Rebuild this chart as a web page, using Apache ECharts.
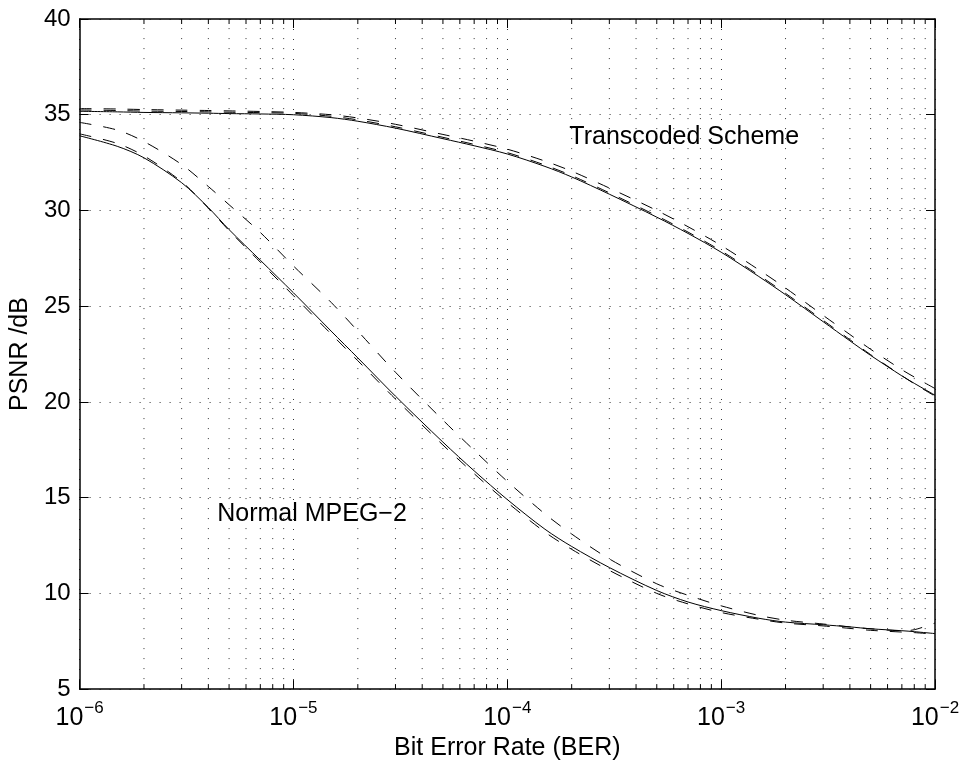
<!DOCTYPE html>
<html>
<head>
<meta charset="utf-8">
<script src="https://cdn.jsdelivr.net/npm/echarts@6/dist/echarts.min.js"></script>
<style>
  html, body { margin: 0; padding: 0; background: #fff; }
  #chart { width: 963px; height: 766px; }
</style>
</head>
<body>
<div id="chart"></div>
<script>
// BER sample points (x axis, log scale)
var ber = [1e-6, 1.5e-6, 2e-6, 3e-6, 4e-6, 5e-6, 7e-6, 1e-5, 1.5e-5, 2e-5, 3e-5, 5e-5, 7e-5,
           1e-4, 1.5e-4, 2e-4, 3e-4, 5e-4, 7e-4, 1e-3, 1.5e-3, 2e-3, 3e-3, 4e-3, 5e-3, 7e-3, 8e-3, 1e-2];

// Normal MPEG-2 curves
var mpegSolid = [33.9, 33.35, 32.75, 31.45, 30.15, 29.0, 27.4, 25.7, 23.7, 22.3, 20.3, 17.9, 16.4,
                 14.9, 13.35, 12.45, 11.35, 10.15, 9.55, 9.1, 8.7, 8.5, 8.36, 8.25, 8.15, 8.05, 8.0, 7.9];
var mpegDashNear = [34.0, 33.5, 32.85, 31.5, 30.12, 28.95, 27.3, 25.55, 23.55, 22.15, 20.15, 17.75, 16.25,
                    14.75, 13.2, 12.3, 11.2, 10.0, 9.45, 9.0, 8.65, 8.45, 8.3, 8.17, 8.07, 7.98, 7.95, 7.87];
var mpegDashFar = [34.6, 34.2, 33.6, 32.4, 31.25, 30.3, 28.85, 27.1, 25.2, 23.7, 21.55, 19.05, 17.47,
                   15.85, 14.15, 13.1, 11.8, 10.5, 9.9, 9.35, 8.85, 8.6, 8.4, 8.25, 8.15, 8.05, 8.1, 8.45];

// Transcoded scheme curves
var transSolid = [35.18, 35.15, 35.12, 35.1, 35.08, 35.06, 35.04, 35.0, 34.85, 34.66, 34.3, 33.75, 33.38,
                  32.95, 32.3, 31.75, 30.85, 29.65, 28.8, 27.82, 26.55, 25.6, 24.19, 23.19, 22.43, 21.36, 20.97, 20.35];
var transDashNear = [35.25, 35.22, 35.19, 35.17, 35.15, 35.13, 35.11, 35.07, 34.92, 34.73, 34.37, 33.82, 33.45,
                     33.02, 32.37, 31.82, 30.92, 29.72, 28.87, 27.89, 26.62, 25.67, 24.26, 23.25, 22.47, 21.37, 20.95, 20.3];
var transDashFar = [35.32, 35.3, 35.27, 35.24, 35.22, 35.2, 35.17, 35.12, 35.0, 34.83, 34.5, 33.97, 33.62,
                    33.2, 32.58, 32.05, 31.17, 30.0, 29.15, 28.17, 26.9, 25.95, 24.52, 23.52, 22.75, 21.68, 21.3, 20.7];

// y tick labels
var yTicks = [5, 10, 15, 20, 25, 30, 35, 40];

// minor log positions 2..9 x 10^k
var minorTicks = [];
for (var k = -6; k < -2; k++) {
    for (var m = 2; m <= 9; m++) {
        minorTicks.push(m * Math.pow(10, k));
    }
}

var FONT = 'Liberation Sans, Arial, Helvetica, sans-serif';

function pairs(ys) {
    return ber.map(function (b, i) { return [b, ys[i]]; });
}

function lineSeries(name, ys, dashed) {
    return {
        name: name,
        type: 'line',
        data: pairs(ys),
        symbol: 'none',
        smooth: 0.3,
        clip: true,
        lineStyle: {
            color: '#000',
            width: 1,
            type: dashed ? [12, 12] : 'solid'
        },
        z: 3
    };
}

var chart = echarts.init(document.getElementById('chart'), null, { renderer: 'canvas' });

var dotted = { color: '#333', width: 1, type: [1, 9] };

var option = {
    animation: false,
    backgroundColor: '#fff',
    textStyle: { fontFamily: FONT, color: '#000' },
    grid: { left: 77, right: 28, top: 19, bottom: 70, show: false },
    xAxis: [{
        type: 'log',
        logBase: 10,
        min: 1e-6,
        max: 1e-2,
        position: 'bottom',
        axisLine: { show: true, onZero: false, lineStyle: { color: '#000', width: 1.5 } },
        axisTick: { show: true, inside: true, length: 9, lineStyle: { color: '#000' } },
        axisLabel: {
            margin: 12,
            formatter: function (v) {
                var e = Math.round(Math.log10(v));
                return '{b|10}{s|\u2212' + (-e) + '}';
            },
            rich: {
                b: { fontSize: 25, fontFamily: FONT, color: '#000', verticalAlign: 'bottom', lineHeight: 30 },
                s: { fontSize: 17, fontFamily: FONT, color: '#000', verticalAlign: 'bottom', lineHeight: 30, padding: [0, 0, 14, 1] }
            }
        },
        splitLine: { show: true, lineStyle: dotted },
        name: 'Bit Error Rate (BER)',
        nameLocation: 'middle',
        nameGap: 44,
        nameTextStyle: { fontSize: 25, fontFamily: FONT, color: '#000' }
    }, {
        type: 'log',
        logBase: 10,
        min: 1e-6,
        max: 1e-2,
        position: 'top',
        axisLine: { show: true, onZero: false, lineStyle: { color: '#000', width: 1.5 } },
        axisTick: { show: true, inside: true, length: 9, lineStyle: { color: '#000' } },
        axisLabel: { show: false },
        splitLine: { show: false }
    }],
    yAxis: [{
        type: 'value',
        min: 5,
        max: 40,
        interval: 5,
        position: 'left',
        axisLine: { show: true, onZero: false, lineStyle: { color: '#000', width: 1.5 } },
        axisTick: { show: true, inside: true, length: 9, lineStyle: { color: '#000' } },
        axisLabel: {
            margin: 9,
            fontSize: 24,
            fontFamily: FONT,
            color: '#000',
            formatter: function (v) { return yTicks.indexOf(v) >= 0 ? String(v) : ''; }
        },
        splitLine: { show: true, lineStyle: dotted },
        name: 'PSNR /dB',
        nameLocation: 'middle',
        nameRotate: 90,
        nameGap: 43,
        nameTextStyle: { fontSize: 25, fontFamily: FONT, color: '#000' }
    }, {
        type: 'value',
        min: 5,
        max: 40,
        interval: 5,
        position: 'right',
        axisLine: { show: true, onZero: false, lineStyle: { color: '#000', width: 1.5 } },
        axisTick: { show: true, inside: true, length: 9, lineStyle: { color: '#000' } },
        axisLabel: { show: false },
        splitLine: { show: false }
    }],
    series: [
        {
            // minor log grid lines and minor ticks (bottom + top)
            type: 'custom',
            xAxisIndex: 0,
            yAxisIndex: 0,
            silent: true,
            data: minorTicks.map(function (v) { return [v, 5]; }),
            renderItem: function (params, api) {
                var x = api.value(0);
                var p0 = api.coord([x, 5]);
                var p1 = api.coord([x, 40]);
                return {
                    type: 'group',
                    children: [{
                        type: 'line',
                        shape: { x1: p0[0], y1: p0[1], x2: p1[0], y2: p1[1] },
                        style: { stroke: '#333', lineWidth: 1, lineDash: [1, 9] }
                    }, {
                        type: 'line',
                        shape: { x1: p0[0], y1: p0[1], x2: p0[0], y2: p0[1] - 5 },
                        style: { stroke: '#000', lineWidth: 1 }
                    }, {
                        type: 'line',
                        shape: { x1: p1[0], y1: p1[1], x2: p1[0], y2: p1[1] + 5 },
                        style: { stroke: '#000', lineWidth: 1 }
                    }]
                };
            },
            z: 1
        },
        lineSeries('MPEG-2 solid', mpegSolid, false),
        lineSeries('MPEG-2 dashed near', mpegDashNear, true),
        lineSeries('MPEG-2 dashed far', mpegDashFar, true),
        lineSeries('Transcoded solid', transSolid, false),
        lineSeries('Transcoded dashed near', transDashNear, true),
        (function () {
            var s = lineSeries('Transcoded dashed far', transDashFar, true);
            s.markPoint = {
                symbol: 'circle',
                symbolSize: 0,
                silent: true,
                label: {
                    show: true,
                    position: 'right',
                    distance: 0,
                    fontSize: 25,
                    fontFamily: FONT,
                    color: '#000',
                    formatter: '{b}'
                },
                data: [
                    { name: 'Transcoded Scheme', coord: [1.95e-4, 33.85] },
                    { name: 'Normal MPEG\u22122', coord: [4.4e-6, 14.15] }
                ]
            };
            return s;
        })()
    ]
};

chart.setOption(option);
</script>
</body>
</html>
